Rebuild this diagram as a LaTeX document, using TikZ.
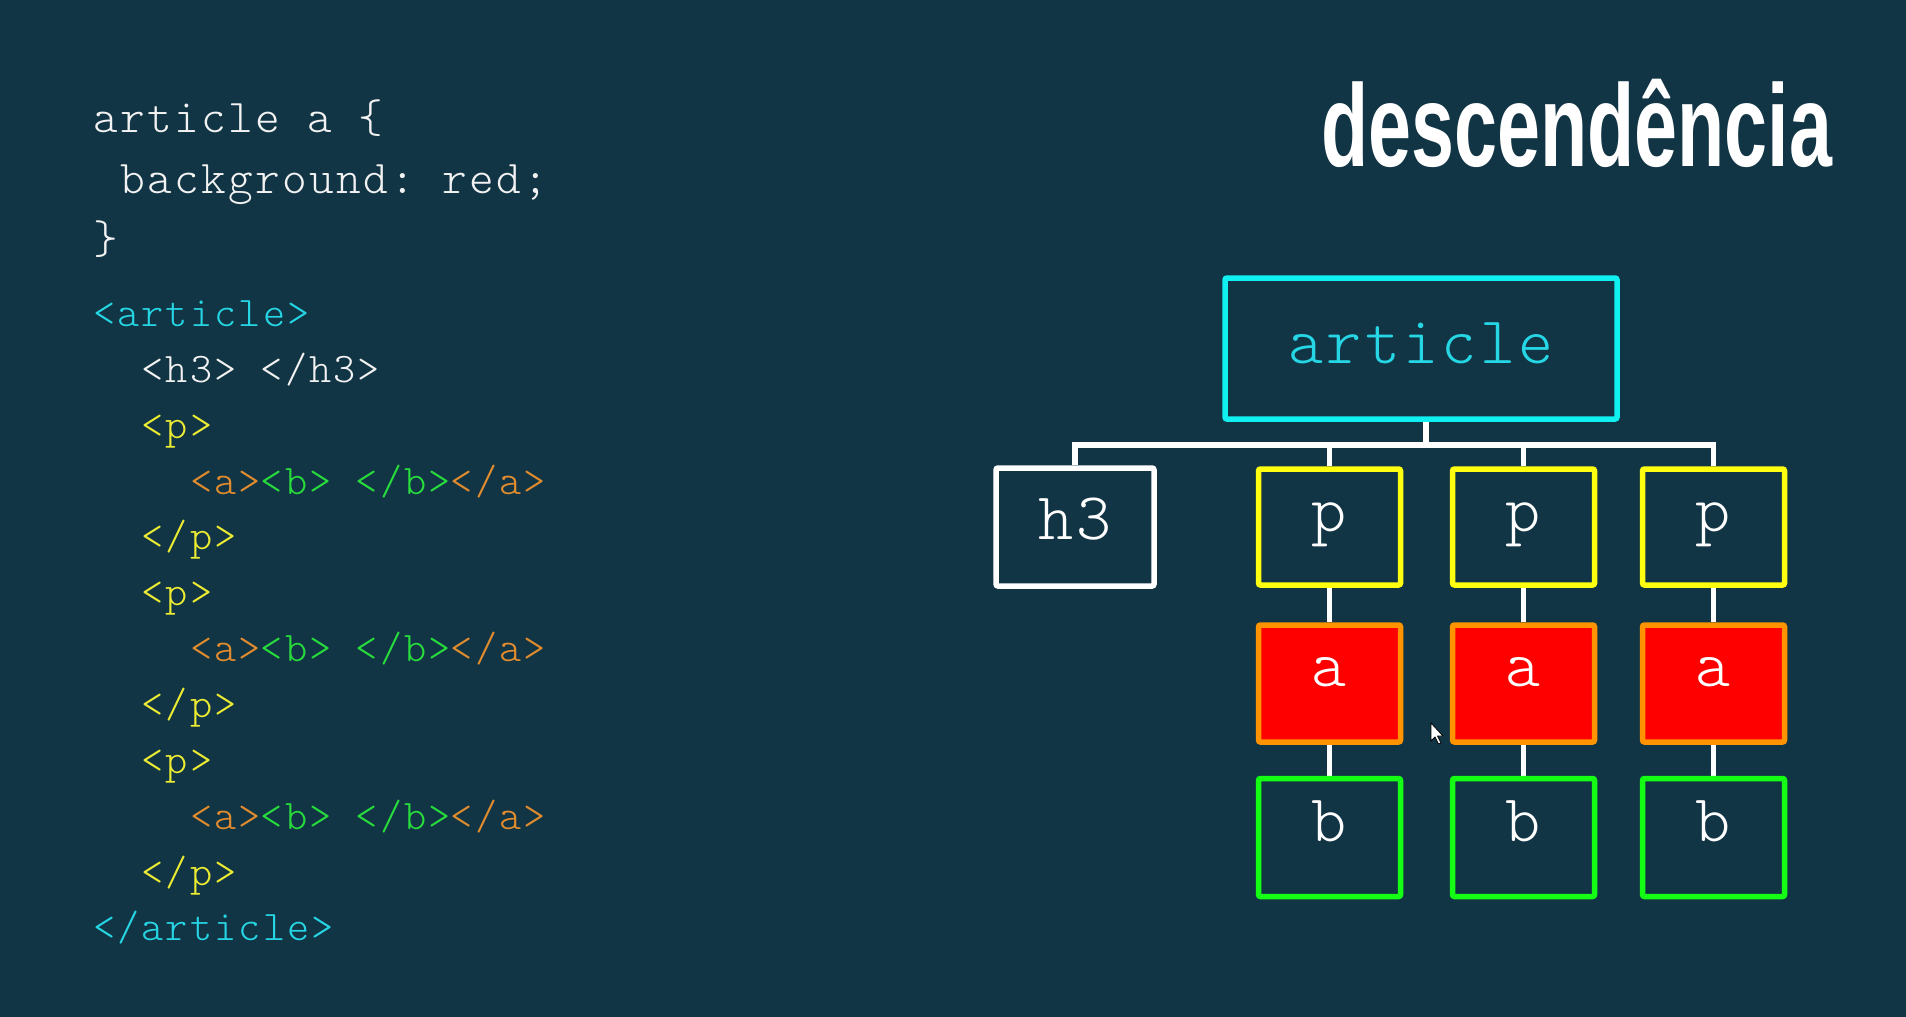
\documentclass[tikz,border=0pt]{standalone}
\usepackage{fontspec}
\usepackage{graphicx}
\newfontfamily\codefont{lmmonolt10-regular.otf}[LetterSpace=5.0]
\newfontfamily\titlefont{Liberation Sans}
\newcommand\msp{\hspace{0.575em}}
\definecolor{bg}{RGB}{17,53,69}
\definecolor{csswhite}{RGB}{242,242,242}
\definecolor{tcyan}{RGB}{38,214,228}
\definecolor{tyellow}{RGB}{236,236,50}
\definecolor{torange}{RGB}{226,140,45}
\definecolor{tgreen}{RGB}{40,220,60}
\definecolor{bcyan}{RGB}{16,240,240}
\definecolor{byellow}{RGB}{255,255,16}
\definecolor{borange}{RGB}{255,148,0}
\definecolor{bgreen}{RGB}{20,255,20}
\definecolor{bred}{RGB}{255,0,0}
\pgfdeclarelayer{back}
\pgfdeclarelayer{conns}
\pgfsetlayers{back,conns,main}
\begin{document}
\begin{tikzpicture}[x=1pt,y=-1pt,
  box/.style={draw, line width=5.5pt, rounded corners=2pt, inner sep=0pt,
    font=\codefont\fontsize{66.8}{72}\selectfont, text=white, text depth=20pt},
  pbox/.style={box, draw=byellow, minimum width=142pt, minimum height=116pt, text height=28pt},
  abox/.style={box, draw=borange, fill=bred, minimum width=142pt, minimum height=117pt, text height=25pt},
  bbox/.style={box, draw=bgreen, minimum width=142pt, minimum height=118pt, text height=28pt},
  conn/.style={draw=white, line width=5.5pt},
  code/.style={anchor=base west, inner sep=0pt, font=\codefont\fontsize{42.2}{48}\selectfont},
  css/.style={anchor=base west, inner sep=0pt, font=\codefont\fontsize{47}{54}\selectfont, text=csswhite}]
\begin{pgfonlayer}{back}
\fill[bg] (0,0) rectangle (1906,1017);
\end{pgfonlayer}
\useasboundingbox (0,0) rectangle (1906,1017);

% title
\node[anchor=base west, inner sep=0pt, text=white] (title) at (1321,166)
  {\titlefont\bfseries\fontsize{117}{130}\selectfont\scalebox{0.66}[1]{descendência}};

% CSS
\node[css] (c1) at (93,132) {article\msp a\msp\{};
\node[css] (c2) at (120,193) {background:\msp red;};
\node[css] (c3) at (93,253) {\}};

% HTML
\node[code, text=tcyan] (h1) at (93,326) {<article>};
\node[code, text=csswhite] (h2) at (141.5,382) {<h3>\msp</h3>};
\node[code, text=tyellow] (h3l) at (141.5,438) {<p>};
\node[code] (h4) at (190,494) {\textcolor{torange}{<a>}\textcolor{tgreen}{<b>\msp</b>}\textcolor{torange}{</a>}};
\node[code, text=tyellow] (h5) at (141.5,549) {</p>};
\node[code, text=tyellow] (h6) at (141.5,605) {<p>};
\node[code] (h7) at (190,661) {\textcolor{torange}{<a>}\textcolor{tgreen}{<b>\msp</b>}\textcolor{torange}{</a>}};
\node[code, text=tyellow] (h8) at (141.5,717) {</p>};
\node[code, text=tyellow] (h9) at (141.5,773) {<p>};
\node[code] (h10) at (190,829) {\textcolor{torange}{<a>}\textcolor{tgreen}{<b>\msp</b>}\textcolor{torange}{</a>}};
\node[code, text=tyellow] (h11) at (141.5,885) {</p>};
\node[code, text=tcyan] (h12) at (93,940) {</article>};

% tree
\node[box, draw=bcyan, text=tcyan, minimum width=392pt, minimum height=141pt, text height=49pt] (art) at (1421,348.5) {article};
\node[box, draw=white, minimum width=158pt, minimum height=118pt, text height=44pt] (hthree) at (1075,527) {h3};
\node[pbox] (p1) at (1329.5,527) {p};
\node[pbox] (p2) at (1523.5,527) {p};
\node[pbox] (p3) at (1713.5,527) {p};
\node[abox] (a1) at (1329.5,683.5) {a};
\node[abox] (a2) at (1523.5,683.5) {a};
\node[abox] (a3) at (1713.5,683.5) {a};
\node[bbox] (b1) at (1329.5,837.5) {b};
\node[bbox] (b2) at (1523.5,837.5) {b};
\node[bbox] (b3) at (1713.5,837.5) {b};

\coordinate (bus) at (1426,445);
\begin{pgfonlayer}{conns}
\draw[conn] (art.south -| bus) -- (bus);
\draw[conn] (hthree.north) |- (bus);
\draw[conn] (p3.north) |- (bus);
\draw[conn] (p1.north) -- (p1.north |- bus);
\draw[conn] (p2.north) -- (p2.north |- bus);
\foreach \i in {1,2,3}{
  \draw[conn] (p\i.south) -- (a\i.north);
  \draw[conn] (a\i.south) -- (b\i.north);
}
\end{pgfonlayer}

% mouse pointer
\draw[black, line width=0.8pt, fill=white, line join=round]
  (1431,723) -- (1431,741) -- (1435,737) -- (1438.5,744) -- (1441,743) -- (1437.5,736) -- (1443,736) -- cycle;
\end{tikzpicture}
\end{document}
